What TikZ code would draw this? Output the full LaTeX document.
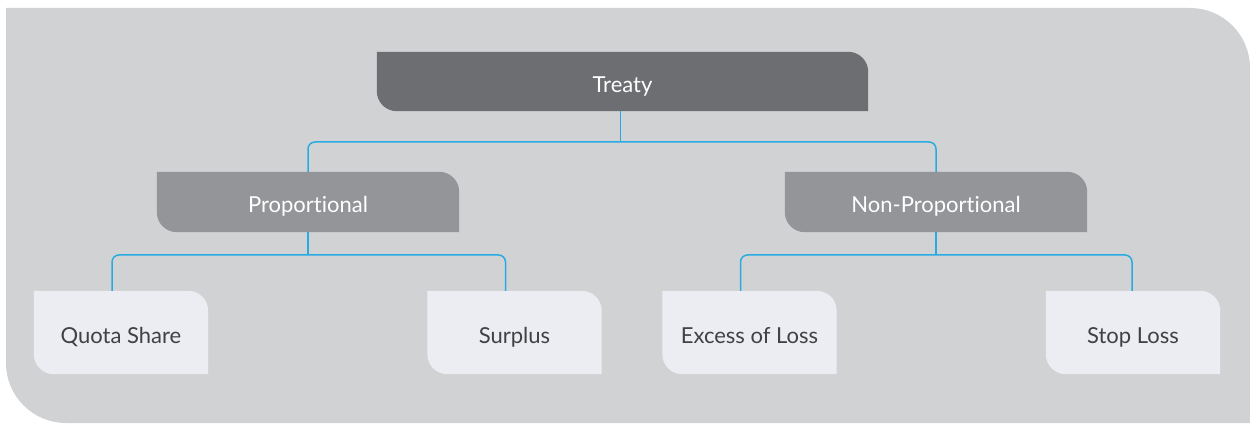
\documentclass[tikz,border=0pt]{standalone}
\usepackage{fontspec}
\setmainfont{Lato}[Ligatures={NoCommon,NoContextual}]
\usetikzlibrary{backgrounds}
\definecolor{panelgray}{HTML}{D1D2D4}
\definecolor{treatygray}{HTML}{6D6E71}
\definecolor{typegray}{HTML}{939598}
\definecolor{leafgray}{HTML}{EBEDF2}
\definecolor{linkblue}{HTML}{29ABE2}
\definecolor{leaftext}{HTML}{414042}

% fill with round corners at top right and bottom left only
\newcommand{\tabfill}[2]{%
  \fill[#2] (#1.north west) -- ([xshift=-20pt]#1.north east)
    arc[start angle=90,end angle=0,radius=20pt] -- (#1.south east)
    -- ([xshift=20pt]#1.south west)
    arc[start angle=270,end angle=180,radius=20pt] -- cycle;}

\begin{document}
\begin{tikzpicture}[x=1pt,y=1pt,
    box/.style={inner sep=0pt,text height=22pt,text depth=0pt,font=\fontsize{22}{26}\selectfont},
    typebox/.style={box,text=white,minimum width=302pt,minimum height=60pt},
    leafbox/.style={box,text=leaftext,minimum width=174pt,minimum height=83pt},
    link/.style={line width=1.5pt,color=linkblue,rounded corners=7pt}]
				\useasboundingbox (0,0) rectangle (1250,423);
				\node[box,text=white,minimum width=491pt,minimum height=59pt] (treaty) at (622.5,341.5) {Treaty};
				\node[typebox] (prop) at (308,221) {Proportional};
				\node[typebox] (nonprop) at (936,221) {Non-Proportional};
				\node[leafbox] (quota) at (121,90.5) {Quota Share};
				\node[leafbox] (surplus) at (514.5,90.5) {Surplus};
				\node[leafbox] (excess) at (749.5,90.5) {Excess of Loss};
				\node[leafbox] (stop) at (1133,90.5) {Stop Loss};
				% connectors
				\coordinate (topbar) at ([xshift=-2pt]treaty.south |- 0,281);
				\draw[link] ([xshift=-2pt]treaty.south) -- (topbar);
				\draw[link] (prop.north) |- (topbar) -| (nonprop.north);
				\coordinate (propbar) at (prop.south |- 0,168);
				\draw[link] (prop.south) -- (propbar);
				\draw[link] ([xshift=-9pt]quota.north) |- (propbar) -| ([xshift=-9pt]surplus.north);
				\coordinate (nonpropbar) at (nonprop.south |- 0,168);
				\draw[link] (nonprop.south) -- (nonpropbar);
				\draw[link] ([xshift=-9pt]excess.north) |- (nonpropbar) -| ([xshift=-1pt]stop.north);
				\begin{scope}[on background layer]
				\fill[panelgray] (1250,0) -- (66,0) arc[start angle=270,end angle=180,radius=60pt]
					-- (6,415) -- (1190,415) arc[start angle=90,end angle=0,radius=60pt] -- cycle;
				\tabfill{treaty}{treatygray}
				\tabfill{prop}{typegray}
				\tabfill{nonprop}{typegray}
				\tabfill{quota}{leafgray}
				\tabfill{surplus}{leafgray}
				\tabfill{excess}{leafgray}
				\tabfill{stop}{leafgray}
				\end{scope}
\end{tikzpicture}
\end{document}
